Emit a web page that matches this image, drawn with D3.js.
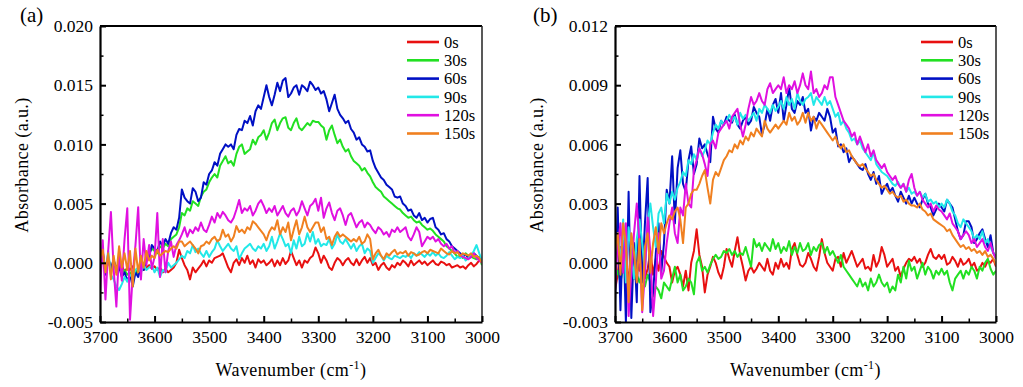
<!DOCTYPE html>
<html><head><meta charset="utf-8">
<script src="https://cdn.jsdelivr.net/npm/d3@7"></script>
<style>
body{margin:0;background:#fff}
svg{display:block}
</style>
</head><body>
<svg id="c" width="1023" height="387"></svg>
<script>
// ---------- data ----------
const wavenumbers = d3.range(3700, 2999, -5);   // 3700 ... 3000 cm-1, step 5
const seriesNames = ["0s", "30s", "60s", "90s", "120s", "150s"];
const seriesColors = ["#e81010", "#22e022", "#0010c4", "#22e8e8", "#e010e0", "#f08020"];
const xTickLabels = [3700, 3600, 3500, 3400, 3300, 3200, 3100, 3000];
const yTicksA = [-0.005, 0.000, 0.005, 0.010, 0.015, 0.020];
const yTicksB = [-0.003, 0.000, 0.003, 0.006, 0.009, 0.012];
const unit = 1e-4; // series values below are in units of 1e-4 absorbance

// panel (a)
const a0s = [
 -2,4,-4,2,-6,0,-3,-6,-2,-8,
 -4,-6,-3,-8,-5,-2,-6,-4,-2,-5,
 -3,-6,-4,-8,-5,-8,-6,-4,0,11,
 4,-2,-6,-14,-4,-8,-5,-2,2,-3,
 2,0,4,5,6,8,2,-4,-8,0,
 3,-2,4,0,6,-1,2,-4,3,0,
 2,-2,0,3,-3,2,-2,4,-1,2,
 10,4,-2,2,-4,2,0,4,6,13,
 8,0,6,2,-4,-6,0,4,2,-2,
 2,4,0,-2,3,-2,2,5,0,4,
 -2,0,-6,-2,0,-4,-6,-2,-4,0,
 -2,2,0,-3,2,-2,0,2,-1,1,
 -2,0,2,-1,-2,1,0,-2,-1,-4,
 -3,-2,-4,-3,-5,-2,0,-3,-1,2,
 0];
const a30s = [
 -3,8,-8,4,-6,2,-5,-2,-8,-6,
 -10,-8,-12,-6,-9,-3,-4,2,8,12,
 10,8,14,12,16,14,20,22,24,30,
 42,40,46,44,52,50,48,56,60,62,
 68,72,75,72,82,86,90,84,86,82,
 92,98,100,92,94,96,104,100,106,108,
 112,104,110,118,121,112,118,122,123,114,
 112,118,122,114,112,115,118,116,120,119,
 119,116,114,104,112,116,108,101,104,98,
 94,96,90,86,84,82,78,80,76,73,
 68,64,62,60,56,54,52,50,48,46,
 45,42,40,38,39,36,34,35,32,30,
 28,29,27,24,22,20,18,14,12,10,
 8,5,6,4,8,6,5,4,3,5,
 -2];
const a60s = [
 -5,10,-10,5,-5,3,-8,-3,-12,-8,
 -15,-10,-20,-8,-12,-3,-6,2,5,15,
 12,10,18,14,20,16,25,30,28,38,
 62,55,52,50,63,60,52,55,68,66,
 75,78,85,82,92,96,100,98,100,96,
 108,113,112,120,118,124,116,128,133,130,
 140,150,140,133,142,152,145,154,156,140,
 143,148,150,142,150,148,145,153,150,146,
 148,143,145,138,128,135,142,130,125,122,
 118,120,113,110,104,106,100,98,94,95,
 86,80,76,72,70,66,64,62,56,55,
 56,50,48,44,45,40,38,42,36,38,
 34,37,38,30,28,24,25,20,18,14,
 12,10,8,6,7,4,5,8,6,4,
 1];
const a90s = [
 -3,5,-6,10,-10,-14,-20,-23,-18,-12,
 -16,-10,-12,-6,-4,-8,-2,-6,-4,-2,
 -8,-4,-12,-6,-8,0,-4,-2,0,3,
 6,4,10,8,15,9,12,8,5,10,
 5,9,12,19,14,10,13,16,12,10,
 14,3,8,12,14,16,12,10,14,12,
 16,10,14,22,12,18,25,20,14,16,
 8,19,12,22,14,16,25,18,26,16,
 20,14,16,15,20,12,16,24,18,16,
 20,16,12,16,10,14,16,8,12,10,
 0,4,8,6,2,6,4,3,6,5,
 4,6,5,7,4,8,6,9,7,5,
 8,6,9,6,8,5,4,6,9,6,
 3,5,4,6,2,4,6,10,15,8,
 2];
const a120s = [
 -25,19,-31,10,43,-5,-37,10,-15,20,
 46,-48,-10,15,47,-14,20,-2,15,-5,
 5,42,-12,20,-8,10,18,5,15,19,
 24,30,22,28,25,30,27,34,28,26,
 32,39,34,42,38,43,40,36,34,38,
 45,53,42,46,44,48,40,44,50,53,
 48,42,46,43,48,40,44,48,42,39,
 44,46,40,44,52,46,40,48,50,54,
 44,55,38,46,51,42,36,44,46,40,
 32,40,42,36,30,34,36,30,34,32,
 28,25,30,28,24,26,22,28,26,30,
 26,28,30,22,19,24,30,26,14,18,
 22,20,22,18,20,16,14,16,12,14,
 8,10,6,5,4,3,5,8,4,2,
 0];
const a150s = [
 3,11,-8,8,-14,6,-10,14,-4,8,
 -6,10,-20,12,-8,6,-4,10,2,6,
 4,11,6,8,10,9,12,14,12,18,
 18,14,16,18,15,12,8,14,15,18,
 16,20,22,18,20,28,22,24,18,22,
 31,26,28,25,30,28,35,33,30,27,
 24,19,26,30,28,36,24,30,26,34,
 19,28,36,24,30,39,30,26,30,34,
 34,26,30,20,22,15,22,26,22,24,
 22,20,18,20,18,22,16,18,24,20,
 3,8,11,6,3,8,6,9,11,7,
 9,8,10,6,9,8,6,7,9,10,
 8,11,10,9,8,12,10,8,7,10,
 8,9,6,8,7,6,8,5,6,4,
 0];

// panel (b)
const b0s = [
 -14,-6,8,-4,6,-10,2,-8,5,-4,
 4,-8,-3,6,-6,2,-4,6,3,0,
 -2,-10,-4,-2,-6,-12,-4,-14,0,6,
 17,4,-2,-15,-6,-2,3,0,-5,-8,
 -2,7,2,-2,6,13,4,-2,-9,-4,
 -2,-5,-3,0,-2,-4,2,-4,-6,0,
 -3,2,-2,0,-3,7,10,4,-1,-2,
 0,5,2,-2,-4,3,12,5,0,-2,
 -4,2,3,-2,5,0,3,6,2,-2,
 0,2,-3,-2,-4,4,-2,1,8,4,
 -2,0,2,-4,-2,-7,-3,0,2,1,
 3,0,2,-2,0,4,7,3,2,4,
 2,4,-1,0,3,1,-2,2,-1,0,
 2,-2,0,-4,-3,0,-2,1,0,2,
 -2];
const b30s = [
 -8,-4,-10,-2,-6,-12,-4,-8,-6,-10,
 -4,-12,-6,-10,-17,-12,-14,-18,-10,-12,
 -14,-8,-2,-10,-6,-14,-12,-8,-10,-16,
 0,3,-4,-2,-5,-1,2,4,2,3,
 6,5,7,4,6,3,5,4,8,3,
 -2,12,8,10,6,10,8,6,12,7,
 10,5,8,6,11,4,8,5,10,6,
 7,10,4,8,6,9,10,5,8,4,
 6,3,0,4,-2,-4,-6,-8,-10,-12,
 -8,-12,-10,-14,-8,-12,-10,-6,-10,-12,
 -10,-15,-12,-14,-6,-10,-2,-8,1,-4,
 -2,-8,-4,0,-6,-2,-4,-8,-4,-6,
 -3,-6,-4,-10,-14,-8,-6,-4,-8,-4,
 -6,-2,-4,-8,-2,-4,0,2,-3,-6,
 -4];
const b60s = [
 -20,28,-24,20,-30,36,-28,10,-20,44,
 -10,20,43,-25,-15,5,20,-5,10,37,
 30,54,20,48,57,40,36,52,59,45,
 50,63,58,60,55,51,74,68,66,72,
 70,74,72,71,75,70,68,72,74,70,
 72,79,76,74,65,70,78,72,80,83,
 76,86,72,80,89,78,76,82,80,84,
 76,78,67,74,72,76,74,72,78,74,
 66,68,59,60,56,58,51,54,52,50,
 48,47,50,45,42,46,40,44,35,38,
 40,36,38,34,31,36,33,30,34,30,
 33,30,28,32,35,30,28,24,27,30,
 28,26,32,30,28,22,16,12,14,21,
 21,18,10,12,15,17,12,8,14,5,
 3];
const b90s = [
 5,15,0,22,-10,18,5,-8,12,22,
 10,-5,20,30,18,8,25,28,20,35,
 30,36,32,38,41,46,44,52,50,55,
 52,58,54,57,62,60,66,70,68,72,
 70,72,75,72,74,70,76,73,75,72,
 74,76,72,78,76,80,78,76,80,77,
 79,82,78,84,80,83,78,86,82,80,
 83,84,86,80,84,82,80,84,80,82,
 78,74,76,70,72,68,66,62,63,60,
 62,58,56,54,52,56,50,48,46,45,
 44,42,40,39,41,38,40,36,38,35,
 36,34,36,33,35,31,32,30,31,28,
 30,28,32,30,26,24,20,18,22,20,
 18,16,12,14,12,16,10,12,8,5,
 2];
const b120s = [
 -10,8,20,-5,20,-27,-5,15,30,10,
 -25,-5,23,5,-27,-10,15,-8,-4,10,
 20,28,15,10,28,24,40,30,28,47,
 52,58,55,50,44,60,62,58,66,68,
 70,72,68,74,76,78,70,64,70,78,
 84,80,82,86,82,80,88,91,86,88,
 90,88,94,86,90,88,92,86,90,96,
 90,88,97,86,88,84,86,90,88,94,
 94,84,80,76,72,70,68,64,66,60,
 64,60,56,60,54,57,52,50,48,50,
 46,44,42,44,40,38,40,36,42,45,
 38,34,36,32,30,28,30,26,29,27,
 26,24,22,25,20,18,16,12,14,16,
 14,10,12,8,10,12,8,6,10,5,
 2];
const b150s = [
 5,15,-6,20,10,-20,15,5,-10,12,
 -24,8,15,-5,10,18,5,20,15,20,
 24,22,26,28,22,10,28,30,35,37,
 37,40,44,47,38,30,42,46,44,48,
 52,54,57,56,60,58,62,60,64,62,
 66,64,68,66,64,72,68,66,68,70,
 68,70,72,70,76,72,74,70,72,76,
 71,76,72,74,68,72,70,68,66,64,
 62,64,60,58,60,56,57,54,52,50,
 49,50,48,46,44,45,42,40,38,39,
 37,35,36,34,33,34,31,32,30,29,
 29,28,30,27,26,24,25,22,21,20,
 19,18,16,17,14,12,10,8,9,7,
 8,6,7,5,6,4,6,3,4,2,
 -1];

// ---------- drawing ----------
const FONT = "'Liberation Serif'";
const svg = d3.select("#c");
const fmt = d => d.toFixed(3);

function panel(cfg) {
  const x = d3.scaleLinear().domain([3700, 3000]).range([cfg.l, cfg.r]);
  const y = d3.scaleLinear().domain(cfg.yDomain).range([cfg.b, cfg.t]);
  const g = svg.append("g");

  svg.append("clipPath").attr("id", cfg.id)
    .append("rect").attr("x", cfg.l).attr("y", cfg.t)
    .attr("width", cfg.r - cfg.l).attr("height", cfg.b - cfg.t);

  const line = d3.line().x((d, i) => x(wavenumbers[i])).y(d => y(d * unit));
  const lg = g.append("g").attr("clip-path", `url(#${cfg.id})`);
  cfg.series.forEach((s, k) => {
    lg.append("path").attr("d", line(s)).attr("fill", "none")
      .attr("stroke", seriesColors[k]).attr("stroke-width", 2)
      .attr("stroke-linejoin", "round");
  });

  // frame top / right
  g.append("line").attr("x1", cfg.l).attr("x2", cfg.r).attr("y1", cfg.t).attr("y2", cfg.t)
    .attr("stroke", "#000").attr("stroke-width", 2.2);
  g.append("line").attr("x1", cfg.r).attr("x2", cfg.r).attr("y1", cfg.t).attr("y2", cfg.b)
    .attr("stroke", "#222").attr("stroke-width", 1.5);

  // y minor
  const yMinor = [];
  for (let i = 0; i < cfg.yTicks.length - 1; i++) yMinor.push((cfg.yTicks[i] + cfg.yTicks[i + 1]) / 2);
  g.append("g").attr("transform", `translate(${cfg.l},0)`)
    .call(d3.axisLeft(y).tickValues(yMinor).tickSize(-3.5).tickFormat(""))
    .call(a => a.select(".domain").remove())
    .call(a => a.selectAll("line").attr("stroke-width", 1.5));
  // y major
  g.append("g").attr("transform", `translate(${cfg.l},0)`)
    .call(d3.axisLeft(y).tickValues(cfg.yTicks).tickSize(-6).tickSizeOuter(0).tickPadding(7).tickFormat(fmt))
    .call(a => a.attr("font-family", null))
    .call(a => a.select(".domain").attr("stroke-width", 2.2))
    .call(a => a.selectAll("line").attr("stroke-width", 2))
    .call(a => a.selectAll("text").attr("font-size", 17.5).style("font-family", FONT));

  // x minor
  const xMinor = [];
  for (let i = 0; i < xTickLabels.length - 1; i++) xMinor.push((xTickLabels[i] + xTickLabels[i + 1]) / 2);
  g.append("g").attr("transform", `translate(0,${cfg.b})`)
    .call(d3.axisBottom(x).tickValues(xMinor).tickSize(-3.5).tickFormat(""))
    .call(a => a.select(".domain").remove())
    .call(a => a.selectAll("line").attr("stroke-width", 1.5));
  // x major
  g.append("g").attr("transform", `translate(0,${cfg.b})`)
    .call(d3.axisBottom(x).tickValues(xTickLabels).tickSize(-6).tickSizeOuter(0).tickPadding(9).tickFormat(d3.format("d")))
    .call(a => a.attr("font-family", null))
    .call(a => a.select(".domain").attr("stroke-width", 2.2))
    .call(a => a.selectAll("line").attr("stroke-width", 2))
    .call(a => a.selectAll("text").attr("font-size", 17.5).style("font-family", FONT));

  // axis titles
  g.append("text")
    .attr("transform", `translate(${cfg.ylabX},${(cfg.t + cfg.b) / 2 - 9}) rotate(-90)`)
    .attr("text-anchor", "middle").attr("font-size", 18).attr("letter-spacing", 0.4)
    .style("font-family", FONT)
    .text("Absorbance (a.u.)");
  const xt = g.append("text")
    .attr("x", (cfg.l + cfg.r) / 2).attr("y", 376)
    .attr("text-anchor", "middle").attr("font-size", 18).attr("letter-spacing", 0.4)
    .style("font-family", FONT);
  xt.append("tspan").text("Wavenumber (cm");
  xt.append("tspan").attr("font-size", 12).attr("dy", -7).text("-1");
  xt.append("tspan").attr("dy", 7).text(")");

  // panel label
  g.append("text").attr("x", cfg.pX).attr("y", 22).attr("font-size", 21)
    .style("font-family", FONT).text(cfg.label);

  // legend
  seriesNames.forEach((n, k) => {
    const yy = 42 + k * 18.3;
    g.append("line").attr("x1", cfg.legX).attr("x2", cfg.legX + 32).attr("y1", yy).attr("y2", yy)
      .attr("stroke", seriesColors[k]).attr("stroke-width", 2.6);
    g.append("text").attr("x", cfg.legX + 37).attr("y", yy).attr("dy", "0.35em")
      .attr("font-size", 16.5).style("font-family", FONT).text(n);
  });
}

panel({id: "clipA", l: 100, r: 482, t: 26, b: 322, yDomain: [-0.005, 0.020], yTicks: yTicksA,
  series: [a0s, a30s, a60s, a90s, a120s, a150s], ylabX: 28, pX: 20, label: "(a)", legX: 407});
panel({id: "clipB", l: 615, r: 996, t: 26, b: 322, yDomain: [-0.003, 0.012], yTicks: yTicksB,
  series: [b0s, b30s, b60s, b90s, b120s, b150s], ylabX: 543, pX: 533, label: "(b)", legX: 921});
</script>
</body></html>
